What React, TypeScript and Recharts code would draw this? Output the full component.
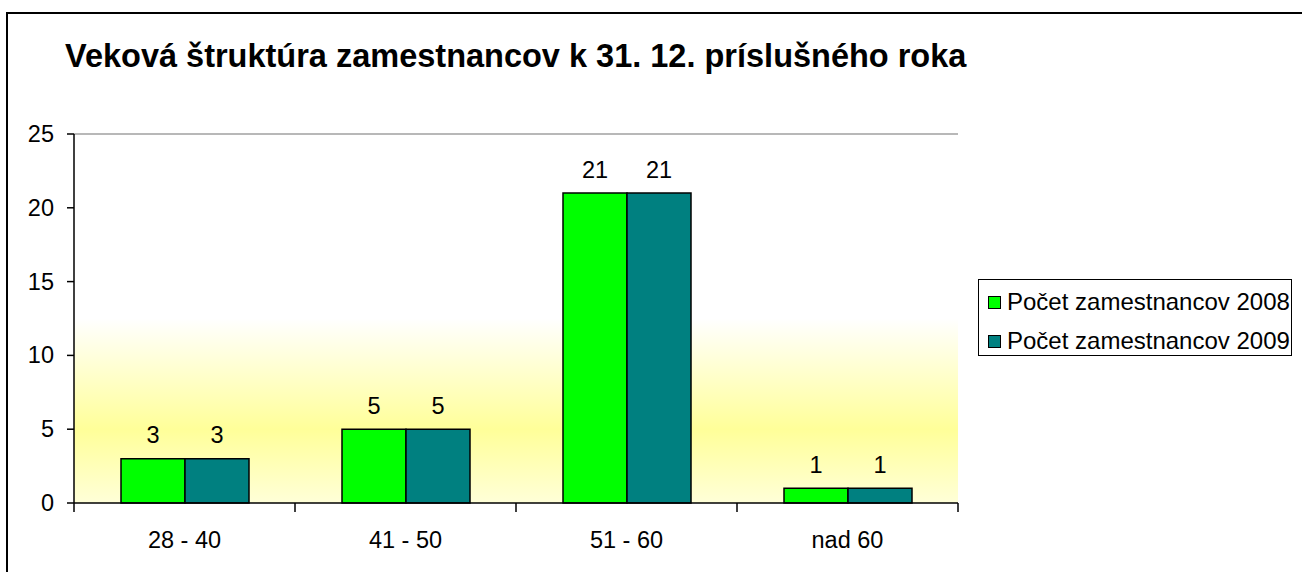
import { BarChart, Bar, XAxis, YAxis, CartesianGrid, ReferenceLine, LabelList } from "recharts";

const categories = ["28 - 40", "41 - 50", "51 - 60", "nad 60"];
const count2008 = [3, 5, 21, 1];
const count2009 = [3, 5, 21, 1];
const yTicks = [0, 5, 10, 15, 20, 25];

const seriesNames = ["Počet zamestnancov 2008", "Počet zamestnancov 2009"];
const seriesColors = ["#00FF00", "#008080"];

const data = categories.map((c, i) => ({
  name: c,
  y2008: count2008[i],
  y2009: count2009[i],
}));

const FONT = '"Liberation Sans", Arial, sans-serif';
const TXT = 23.5;

const W = 1302;
const H = 572;
const M = { top: 134, right: 344, bottom: 0, left: 0 };
const Y_AXIS_W = 74;
const X_AXIS_H = 69;
const PLOT_W = W - M.right - Y_AXIS_W;
const BAND = PLOT_W / categories.length;

function Txt({ x, y, anchor, children }: any) {
  return (
    <text x={x} y={y} textAnchor={anchor} fontFamily={FONT} fontSize={TXT} fill="#000">
      {children}
    </text>
  );
}

// category labels in the middle, tick marks on the category borders
function XTick(props: any) {
  const { x, y, payload, index } = props;
  const half = BAND / 2;
  const top = y - 9;
  return (
    <g>
      <line x1={x - half} x2={x - half} y1={top} y2={top + 9} stroke="#000" strokeWidth={1.5} />
      {index === categories.length - 1 && (
        <line x1={x + half} x2={x + half} y1={top} y2={top + 9} stroke="#000" strokeWidth={1.5} />
      )}
      <Txt x={x} y={top + 45} anchor="middle">
        {payload.value}
      </Txt>
    </g>
  );
}

function YTick(props: any) {
  const { x, y, payload } = props;
  return (
    <Txt x={x} y={y + 8} anchor="end">
      {payload.value}
    </Txt>
  );
}

function BarValue(props: any) {
  const { x, y, width, value } = props;
  return (
    <Txt x={x + width / 2} y={y - 15.5} anchor="middle">
      {value}
    </Txt>
  );
}

export default function App() {
  return (
    <div
      style={{
        position: "absolute",
        left: 0,
        top: 0,
        width: W,
        height: H,
        background: "#fff",
        overflow: "hidden",
      }}
    >
      {/* outer frame */}
      <div
        style={{
          position: "absolute",
          left: 6,
          top: 12,
          width: W + 20,
          height: H + 20,
          border: "2px solid #000",
        }}
      />

      {/* Title */}
      <div
        style={{
          position: "absolute",
          left: 65,
          top: 39.5,
          fontFamily: FONT,
          fontWeight: "bold",
          fontSize: 32.5,
          lineHeight: "32.5px",
          whiteSpace: "nowrap",
          color: "#000",
        }}
      >
        Veková štruktúra zamestnancov k 31. 12. príslušného roka
      </div>

      <div style={{ position: "absolute", left: 0, top: 0 }}>
        <BarChart
          width={W}
          height={H}
          data={data}
          margin={M}
          barCategoryGap={47}
          barGap={0}
        >
          <defs>
            <linearGradient id="plotBg" x1="0" y1="0" x2="0" y2="1">
              <stop offset="0%" stopColor="#FFFFFF" />
              <stop offset="50%" stopColor="#FFFFFF" />
              <stop offset="80%" stopColor="#FFFF99" />
              <stop offset="100%" stopColor="#FFFFD8" />
            </linearGradient>
          </defs>
          <CartesianGrid
            yAxisId="l"
            horizontal={false}
            vertical={false}
            fill="url(#plotBg)"
            fillOpacity={1}
          />
          <XAxis
            dataKey="name"
            height={X_AXIS_H}
            axisLine={{ stroke: "#000", strokeWidth: 1.5 }}
            tickLine={false}
            tickSize={9}
            tickMargin={0}
            tick={<XTick />}
            interval={0}
          />
          <YAxis
            yAxisId="l"
            width={Y_AXIS_W}
            domain={[0, 25]}
            ticks={yTicks}
            axisLine={{ stroke: "#000", strokeWidth: 1.5 }}
            tickLine={{ stroke: "#000", strokeWidth: 1.5 }}
            tickSize={7}
            tickMargin={13}
            tick={<YTick />}
            interval={0}
          />
          <YAxis
            yAxisId="r"
            orientation="right"
            width={0}
            domain={[0, 25]}
            tick={false}
            tickLine={false}
            axisLine={{ stroke: "#a0a0a0", strokeWidth: 1.5 }}
          />
          <ReferenceLine yAxisId="l" y={25} stroke="#a0a0a0" strokeWidth={1.5} />
          <Bar
            yAxisId="l"
            dataKey="y2008"
            name={seriesNames[0]}
            fill={seriesColors[0]}
            stroke="#000"
            strokeWidth={1.5}
            isAnimationActive={false}
          >
            <LabelList dataKey="y2008" content={<BarValue />} />
          </Bar>
          <Bar
            yAxisId="l"
            dataKey="y2009"
            name={seriesNames[1]}
            fill={seriesColors[1]}
            stroke="#000"
            strokeWidth={1.5}
            isAnimationActive={false}
          >
            <LabelList dataKey="y2009" content={<BarValue />} />
          </Bar>
        </BarChart>
      </div>

      {/* Legend */}
      <div
        style={{
          position: "absolute",
          left: 978,
          top: 279,
          width: 312,
          height: 75,
          border: "1px solid #000",
          background: "#fff",
          boxSizing: "content-box",
        }}
      >
        {seriesNames.map((n, i) => (
          <div
            key={n}
            style={{
              position: "absolute",
              left: 9,
              top: i === 0 ? 10 : 49,
              height: 24,
              display: "flex",
              alignItems: "center",
              whiteSpace: "nowrap",
            }}
          >
            <div
              style={{
                width: 11,
                height: 11,
                background: seriesColors[i],
                border: "1px solid #000",
                flex: "none",
              }}
            />
            <span
              style={{
                marginLeft: 6,
                fontFamily: FONT,
                fontSize: 24,
                lineHeight: "24px",
                color: "#000",
              }}
            >
              {n}
            </span>
          </div>
        ))}
      </div>
    </div>
  );
}
